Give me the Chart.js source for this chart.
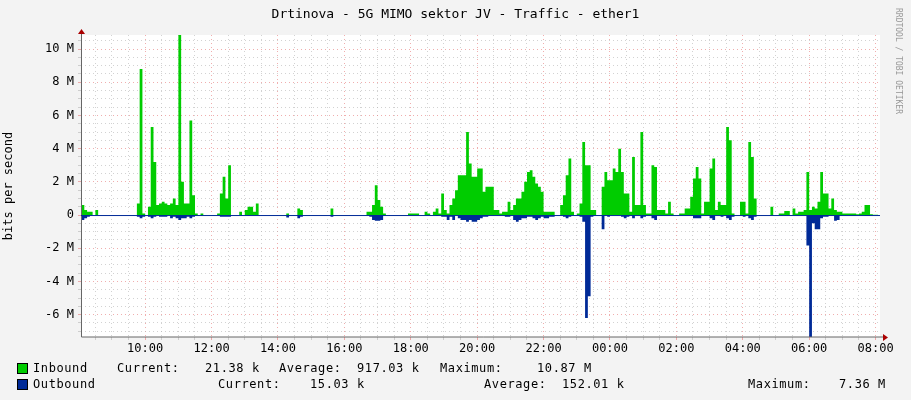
<!DOCTYPE html>
<html><head><meta charset="utf-8">
<script src="https://cdn.jsdelivr.net/npm/chart.js@4.4.0/dist/chart.umd.min.js"></script>
<style>
body{margin:0;background:#f3f3f3;width:911px;height:400px;overflow:hidden;font-family:"DejaVu Sans Mono",monospace;}
#wrap{position:absolute;left:0;top:0;width:911px;height:400px;}
.t{position:absolute;white-space:pre;font-size:12px;color:#000;letter-spacing:0.6px;}
.sw{position:absolute;width:9px;height:9px;border:1px solid #000;}
</style></head><body>
<div id="wrap"><canvas id="c" width="911" height="400"></canvas></div>
<div class="t" style="left:0;width:911px;text-align:center;top:6px;font-size:13px;letter-spacing:0;">Drtinova - 5G MIMO sektor JV - Traffic - ether1</div>
<div class="t" style="left:893px;top:8px;font-size:8px;color:#999;letter-spacing:0;transform-origin:0 0;transform:rotate(90deg) translateY(-10px);">RRDTOOL / TOBI OETIKER</div>
<div class="sw" style="left:17px;top:363px;background:#00cc00;"></div>
<div class="t" style="left:33px;top:361px;">Inbound</div>
<div class="t" style="left:117px;top:361px;">Current:</div>
<div class="t" style="left:205px;top:361px;">21.38 k</div>
<div class="t" style="left:279px;top:361px;">Average:</div>
<div class="t" style="left:357px;top:361px;">917.03 k</div>
<div class="t" style="left:440px;top:361px;">Maximum:</div>
<div class="t" style="left:537px;top:361px;">10.87 M</div>
<div class="sw" style="left:17px;top:379px;background:#002a97;"></div>
<div class="t" style="left:33px;top:377px;">Outbound</div>
<div class="t" style="left:218px;top:377px;">Current:</div>
<div class="t" style="left:310px;top:377px;">15.03 k</div>
<div class="t" style="left:484px;top:377px;">Average:</div>
<div class="t" style="left:562px;top:377px;">152.01 k</div>
<div class="t" style="left:748px;top:377px;">Maximum:</div>
<div class="t" style="left:839px;top:377px;">7.36 M</div>
<script>
const startMinute = 485; // 08:05
const stepMinutes = 5;
const inboundM = [
 1.0,0.6,0.3,0.2,0.2,0,0.3,0,0,0,0,0,
 0,0,0,0,0,0,0,0,0,0.7,8.8,0.1,
 0,0.5,5.3,3.2,0.6,0.7,0.8,0.7,0.6,0.7,1.0,0.6,
 10.87,2.0,0.7,0.7,5.7,1.2,0.1,0,0.1,0,0,0,
 0,0,0.1,1.3,2.3,1.0,3.0,0,0,0,0.2,0,
 0.3,0.5,0.5,0.2,0.7,0,0,0,0,0,0,0,
 0,0,0,0.1,0,0,0,0.4,0.3,0,0,0,
 0,0,0,0,0,0,0,0.4,0,0,0,0,
 0,0,0,0,0,0,0,0,0.2,0.2,0.6,1.8,
 0.9,0.5,0.1,0,0,0,0,0,0,0,0,0.1,
 0.1,0.1,0.1,0,0,0.2,0.1,0,0.2,0.4,0.1,1.3,
 0.3,0.1,0.6,1.0,1.5,2.4,2.4,2.4,5.0,3.1,2.3,2.3,
 2.8,2.8,1.4,1.7,1.7,1.7,0.3,0.3,0.1,0.2,0.2,0.8,
 0.3,0.6,1.0,1.0,1.4,2.0,2.6,2.7,2.3,1.9,1.7,1.4,
 0.2,0.2,0.2,0.2,0,0,0.6,1.2,2.4,3.4,0.2,0,
 0.1,0.7,4.4,3.0,3.0,0.3,0.3,0,0,1.7,2.6,2.1,
 2.1,2.8,2.6,4.0,2.6,1.3,1.3,0.2,3.5,0.6,0.6,5.0,
 0.6,0.1,0.1,3.0,2.9,0.3,0.3,0.3,0.1,0.8,0.1,0,
 0,0.1,0.1,0.4,0.4,1.1,2.2,2.9,2.2,0.1,0.8,0.8,
 2.8,3.4,0.3,0.8,0.6,0.6,5.3,4.5,0.1,0,0,0.8,
 0.8,0.1,4.4,3.5,1.0,0,0,0,0,0,0.5,0,
 0,0.1,0.1,0.25,0.25,0,0.4,0.1,0.2,0.2,0.3,2.6,
 0.3,0.5,0.4,0.8,2.6,1.3,1.3,0.4,1.0,0.3,0.2,0.2,
 0.1,0.1,0.1,0.1,0.1,0.05,0.1,0.2,0.6,0.6,0.05,0.02,
 0.02];
const outboundM = [
 -0.3,-0.3,-0.2,-0.1,0,0,0,0,0,0,0,0,
 0,0,0,0,0,0,0,0,0,-0.1,-0.2,-0.1,
 0,-0.1,-0.2,-0.1,0,-0.1,-0.1,-0.1,0,-0.2,-0.1,-0.2,
 -0.3,-0.2,-0.2,-0.1,-0.2,-0.1,0,0,0,0,0,0,
 0,0,0,-0.1,-0.1,-0.1,-0.1,0,0,0,0,0,
 0,-0.05,0,0,0,0,0,0,0,0,0,0,
 0,0,0,-0.15,0,0,0,-0.2,-0.1,0,0,0,
 0,0,0,0,0,0,0,-0.1,0,0,0,0,
 0,0,0,0,0,0,0,0,0,-0.1,-0.3,-0.35,
 -0.35,-0.3,0,0,0,0,0,0,0,0,0,0,
 0,0,0,0,0,0,0,0,0,-0.05,0,-0.1,
 -0.1,-0.3,-0.1,-0.3,0,-0.2,-0.3,-0.3,-0.4,-0.3,-0.4,-0.4,
 -0.3,-0.2,-0.1,-0.1,0,0,0,0,0,0,-0.1,-0.1,
 0,-0.3,-0.4,-0.3,-0.2,-0.2,-0.1,-0.1,-0.2,-0.3,-0.2,-0.1,
 -0.2,-0.2,-0.1,-0.1,0,0,0,-0.1,-0.2,-0.1,0,0,
 0,-0.1,-0.4,-6.2,-4.9,-0.1,0,0,0,-0.85,0,-0.1,
 0,0,0,0,-0.1,-0.2,-0.1,0,-0.2,0,0,-0.2,
 -0.1,0,0,-0.2,-0.3,0,0,0,0,0,0,0,
 0,0,0,0,0,0,-0.2,-0.2,-0.2,0,0,0,
 -0.2,-0.3,0,0,-0.1,0,-0.2,-0.3,-0.1,0,0,0,
 -0.1,0,-0.2,-0.3,-0.1,0,0,0,0,0,0,0,
 0,0,0,0,0,0,0,0,0,0,0,-1.84,
 -7.36,-0.5,-0.86,-0.86,-0.2,-0.1,-0.1,0,0,-0.35,-0.3,0,
 0,0,0,0,0,0,0,0,-0.05,-0.05,0,0,
 -0.015];
const xTickLabels = ["10:00","12:00","14:00","16:00","18:00","20:00","22:00","00:00","02:00","04:00","06:00","08:00"];
const yTickLabels = ["-6 M","-4 M","-2 M","0","2 M","4 M","6 M","8 M","10 M"];

const toPts = arr => arr.map((v,i)=>({x:startMinute+i*stepMinutes, y:v*1e6}));
const bgPlugin = {id:'bg',beforeDraw(ch){const a=ch.chartArea,c=ch.ctx;c.save();c.fillStyle='#fff';c.fillRect(a.left,a.top,a.right-a.left,a.bottom-a.top);c.restore();},
 afterDraw(ch){const a=ch.chartArea,c=ch.ctx;c.save();c.strokeStyle='#666';c.lineWidth=1;
  c.beginPath();c.moveTo(a.left+0.5,a.top-3);c.lineTo(a.left+0.5,a.bottom);c.lineTo(a.right+5,a.bottom);c.stroke();
  c.fillStyle='#a00';c.beginPath();c.moveTo(a.left-3,a.top-1);c.lineTo(a.left+4,a.top-1);c.lineTo(a.left+0.5,a.top-6);c.fill();
  c.beginPath();c.moveTo(a.right+3,a.bottom-3);c.lineTo(a.right+3,a.bottom+4);c.lineTo(a.right+8,a.bottom+0.5);c.fill();
  const y0=ch.scales.y.getPixelForValue(0);c.strokeStyle='#002a97';c.beginPath();c.moveTo(a.left,y0+0.5);c.lineTo(a.right,y0+0.5);c.stroke();
  c.restore();}};
new Chart(document.getElementById('c'),{
 type:'line',
 data:{datasets:[
  {label:'Inbound',data:toPts(inboundM),stepped:'after',fill:'origin',backgroundColor:'#00cc00',borderColor:'#00cc00',borderWidth:0,pointRadius:0},
  {label:'Outbound',data:toPts(outboundM),stepped:'after',fill:'origin',backgroundColor:'#002a97',borderColor:'#002a97',borderWidth:0,pointRadius:0}]},
 options:{responsive:false,animation:false,
  layout:{padding:{left:0,top:35,right:31,bottom:0}},
  plugins:{legend:{display:false},tooltip:{enabled:false}},
  scales:{
   x:{type:'linear',min:484,max:1928,
    afterBuildTicks(s){const t=[];for(let m=510;m<=1920;m+=30)t.push({value:m});s.ticks=t;},
    afterFit(s){s.height=63;},
    ticks:{autoSkip:false,maxRotation:0,color:'#000',font:{family:'DejaVu Sans Mono',size:12},padding:2,
     callback(v){if((v-600)%120!==0)return '';return xTickLabels[(v-600)/120];}},
    grid:{drawTicks:true,tickLength:3,color:c=>{const v=c.tick&&c.tick.value;return (v-600)%120===0?'rgba(230,120,120,0.6)':'rgba(180,180,180,0.6)';}},
    border:{display:false,dash:[1,3]}},
   y:{min:-7.35e6,max:10.85e6,
    afterBuildTicks(s){const t=[];for(let v=-7;v<=10.5;v+=0.5)t.push({value:v*1e6});s.ticks=t;},
    afterFit(s){s.width=81;},
    ticks:{autoSkip:false,color:'#000',font:{family:'DejaVu Sans Mono',size:12},padding:4,
     callback(v){const m=Math.round(v/1e6*2)/2;if(m%2!==0)return '';return yTickLabels[(m+6)/2];}},
    title:{display:true,text:'bits per second',color:'#000',font:{family:'DejaVu Sans Mono',size:12},padding:{top:2,bottom:2}},
    grid:{tickLength:3,color:c=>{const v=c.tick&&c.tick.value;const m=Math.round(v/1e6*2)/2;return m%2===0?'rgba(230,120,120,0.6)':'rgba(180,180,180,0.6)';}},
    border:{display:false,dash:[1,3]}}
  }},
 plugins:[bgPlugin]});
</script></body></html>
